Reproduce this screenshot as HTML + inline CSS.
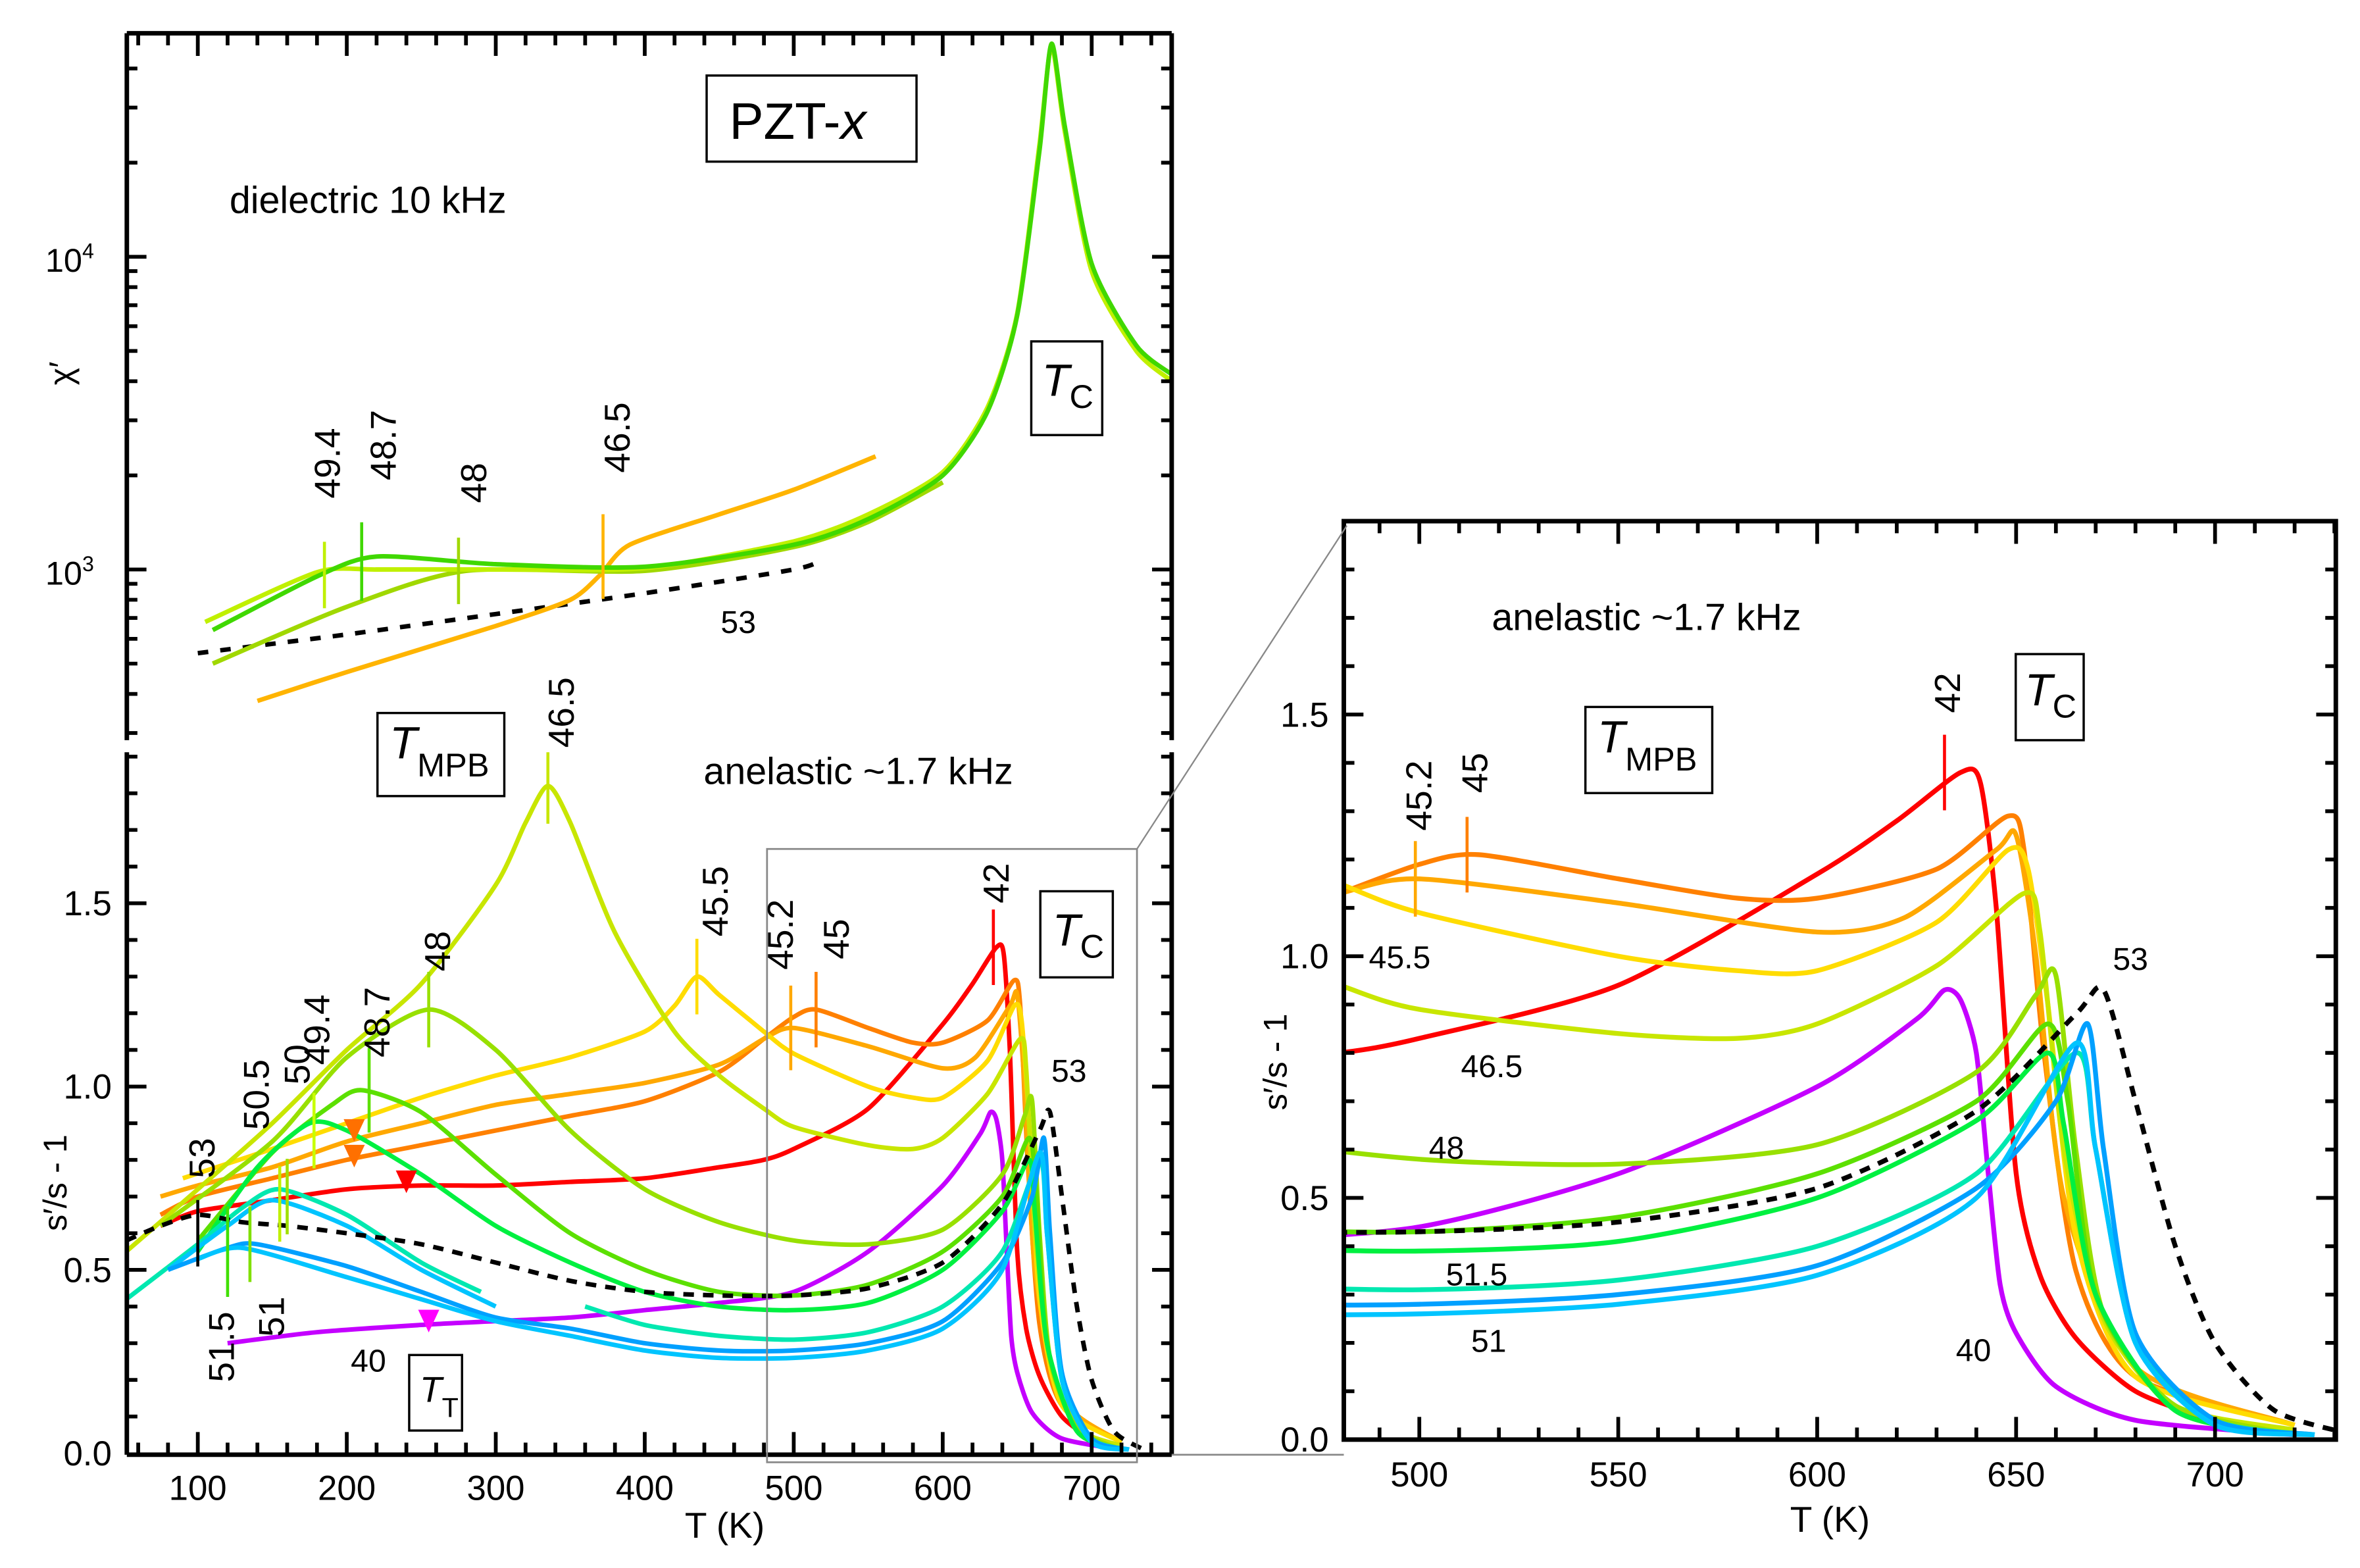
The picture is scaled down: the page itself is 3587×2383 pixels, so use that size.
<!DOCTYPE html>
<html><head><meta charset="utf-8"><style>
html,body{margin:0;padding:0;background:#fff}
svg{display:block}
text{font-family:"Liberation Sans",sans-serif}
</style></head><body>
<svg id="fig" width="3587" height="2383" viewBox="0 0 1563 1038" preserveAspectRatio="none" xmlns="http://www.w3.org/2000/svg">
<rect width="1563" height="1038" fill="#fff"/>
<defs>
<clipPath id="cTop"><rect x="84" y="22" width="692" height="468"/></clipPath>
<clipPath id="cBot"><rect x="84" y="498" width="692" height="465"/></clipPath>
<clipPath id="cRight"><rect x="890" y="345" width="657" height="608"/></clipPath>
</defs>
<g id="gTop" clip-path="url(#cTop)"></g>
<g id="gBot" clip-path="url(#cBot)"></g>
<g id="gRight" clip-path="url(#cRight)"></g>
<g id="gAxes"></g>
<g id="gText"></g>
</svg>
<script>
// ---------- data: lower (anelastic) panel, T in K, value s'/s-1 ----------
const names = ["40","42","45","45.2","45.5","46.5","48","48.7","49.4","50","51","51.5","53"];
const colors = ["#c400ff","#ff0000","#ff8000","#ffa800","#ffdc00","#c8e600","#98e000","#5ce000","#00f040","#00e8b0","#00a0ff","#00c4ff","#000"];
const T_40=[120,180,250,300,350,400,450,500,550,600,625,632,636,640,643,646,650,660,680,720];
const V_40=[0.30,0.33,0.35,0.36,0.37,0.39,0.41,0.44,0.55,0.73,0.87,0.93,0.91,0.80,0.55,0.32,0.22,0.11,0.04,0.01];
const T_42=[75,100,150,200,250,300,350,400,450,480,500,550,600,620,636,641,645,650,656,665,680,700,720];
const V_42=[0.62,0.66,0.69,0.72,0.73,0.73,0.74,0.75,0.78,0.80,0.83,0.94,1.17,1.28,1.38,1.36,1.10,0.55,0.34,0.21,0.10,0.04,0.01];
const T_45=[75,100,150,200,250,300,350,400,450,480,500,515,550,580,600,630,648,652,657,665,680,720];
const V_45=[0.65,0.70,0.75,0.80,0.84,0.88,0.92,0.96,1.04,1.13,1.19,1.21,1.16,1.12,1.12,1.18,1.29,1.22,0.80,0.35,0.13,0.03];
const T_452=[75,100,150,200,250,300,350,400,450,480,500,550,600,622,645,650,655,662,680,720];
const V_452=[0.70,0.73,0.78,0.85,0.90,0.95,0.98,1.01,1.06,1.13,1.16,1.11,1.05,1.08,1.22,1.25,1.00,0.50,0.15,0.03];
const T_455=[90,150,200,250,300,350,400,420,435,450,480,500,550,580,600,630,648,653,658,665,680,720];
const V_455=[0.75,0.83,0.90,0.97,1.03,1.08,1.15,1.22,1.30,1.25,1.15,1.09,1.00,0.97,0.97,1.07,1.22,1.18,0.90,0.42,0.13,0.03];
const T_465=[52,100,150,200,250,300,320,335,350,380,420,450,480,500,550,580,600,630,652,656,662,672,690,720];
const V_465=[0.55,0.72,0.90,1.10,1.28,1.55,1.72,1.82,1.72,1.42,1.15,1.03,0.94,0.89,0.84,0.83,0.86,0.98,1.13,1.05,0.60,0.25,0.07,0.02];
const T_48=[75,150,200,255,300,350,400,450,500,550,600,640,655,660,665,672,690,720];
const V_48=[0.62,0.85,1.08,1.21,1.10,0.88,0.72,0.63,0.58,0.57,0.61,0.76,0.92,0.96,0.60,0.26,0.07,0.01];
const T_487=[100,150,190,210,250,300,350,400,450,500,550,600,640,658,663,670,690,720];
const V_487=[0.58,0.82,0.95,0.99,0.93,0.76,0.60,0.50,0.44,0.43,0.46,0.55,0.70,0.86,0.70,0.30,0.06,0.01];
const T_494=[100,140,175,200,250,300,350,400,450,500,550,600,640,658,662,670,690,720];
const V_494=[0.55,0.78,0.90,0.88,0.76,0.62,0.52,0.44,0.40,0.39,0.41,0.50,0.66,0.80,0.65,0.30,0.06,0.01];
const T_50=[52,100,130,155,200,250,290];
const V_50=[0.42,0.57,0.67,0.72,0.65,0.52,0.44];
const T_50b=[360,400,450,500,550,600,640,665,670,680,700,725];
const V_50b=[0.40,0.35,0.32,0.31,0.33,0.40,0.55,0.80,0.60,0.20,0.04,0.01];
const T_505=[80,120,150,200,250,300];
const V_505=[0.50,0.62,0.69,0.62,0.50,0.40];
const T_51=[80,120,140,200,250,300,350,400,450,500,550,600,640,660,668,672,680,700,725];
const V_51=[0.50,0.56,0.57,0.51,0.44,0.37,0.34,0.30,0.28,0.28,0.30,0.36,0.52,0.70,0.86,0.60,0.22,0.04,0.01];
const T_515=[100,130,200,250,300,350,400,450,500,550,600,640,665,670,680,700,725];
const V_515=[0.53,0.56,0.48,0.42,0.36,0.32,0.28,0.26,0.26,0.28,0.34,0.50,0.82,0.60,0.20,0.03,0.01];
const T_53=[52,75,100,130,160,200,250,300,350,400,450,500,550,600,640,665,672,680,690,700,715,735];
const V_53=[0.58,0.62,0.65,0.63,0.62,0.60,0.57,0.52,0.47,0.44,0.43,0.43,0.45,0.52,0.68,0.88,0.93,0.70,0.40,0.20,0.06,0.01];

// ---------- data: top (dielectric) panel, chi' ----------
const T_d53=[100,200,300,400,500,520];
const C_d53=[540,620,720,840,1000,1080];
const T_d465=[140,200,300,350,370,390,450,500,555];
const C_d465=[380,470,660,800,960,1200,1500,1800,2300];
const T_d487=[110,180,220,300,400,500,550,600,630,650,665,673,682,700,730,754];
const C_d487=[640,950,1100,1040,1020,1200,1450,2000,3200,6500,22000,48000,26000,9500,5200,4200];
const T_d494=[105,180,220,300,400,500,550,600,630,650,665,673,682,700,730,754];
const C_d494=[680,980,1000,1000,1010,1230,1500,2050,3300,6600,23000,47000,25000,9000,5000,4000];
const T_d48=[110,200,280,400,500,550,600];
const C_d48=[500,760,990,990,1180,1420,1900];

// ---------- axis functions ----------
function xL(T){return 131+(T-100)*0.9867;}
function yL(v){return 962-v*242.7;}
function xR(T){return 940+(T-500)*2.635;}
function yR(v){return 953-v*320;}
function yT(c){return 377-(Math.log10(c)-3)*207;}

const NS="http://www.w3.org/2000/svg";
function mk(tag,attrs,parent){const e=document.createElementNS(NS,tag);for(const k in attrs)e.setAttribute(k,attrs[k]);parent.appendChild(e);return e;}
function smooth(pts){
  let d="M"+pts[0][0].toFixed(1)+","+pts[0][1].toFixed(1);
  for(let i=0;i<pts.length-1;i++){
    const p0=pts[Math.max(i-1,0)],p1=pts[i],p2=pts[i+1],p3=pts[Math.min(i+2,pts.length-1)];
    const c1=[p1[0]+(p2[0]-p0[0])/8,p1[1]+(p2[1]-p0[1])/8];
    const c2=[p2[0]-(p3[0]-p1[0])/8,p2[1]-(p3[1]-p1[1])/8];
    d+=" C"+c1[0].toFixed(1)+","+c1[1].toFixed(1)+" "+c2[0].toFixed(1)+","+c2[1].toFixed(1)+" "+p2[0].toFixed(1)+","+p2[1].toFixed(1);
  }
  return d;
}
const gTop=document.getElementById("gTop"),gBot=document.getElementById("gBot"),gRight=document.getElementById("gRight"),gAxes=document.getElementById("gAxes"),gText=document.getElementById("gText");

const anel=[[T_40,V_40,0],[T_42,V_42,1],[T_45,V_45,2],[T_452,V_452,3],[T_455,V_455,4],[T_465,V_465,5],[T_48,V_48,6],[T_487,V_487,7],[T_494,V_494,8],[T_50,V_50,9],[T_50b,V_50b,9],[T_505,V_505,11],[T_51,V_51,10],[T_515,V_515,11],[T_53,V_53,12]];
anel.forEach(s=>{
  const [Ts,Vs,ci]=s;
  [[gBot,xL,yL,3],[gRight,xR,yR,3.2]].forEach(([g,fx,fy,w])=>{
    const p=mk("path",{d:smooth(Ts.map((t,i)=>[fx(t),fy(Vs[i])])),fill:"none",stroke:colors[ci],"stroke-width":w,"stroke-linejoin":"round"},g);
    if(ci===12){p.setAttribute("stroke-dasharray","7,6");}
    
    
  });
});
const diel=[[T_d53,C_d53,"#000","53"],[T_d465,C_d465,"#ffb400","46.5"],[T_d48,C_d48,"#a0d800","48"],[T_d494,C_d494,"#c0f000","49.4"],[T_d487,C_d487,"#40d800","48.7"]];
diel.forEach(([Ts,Cs,col,nm])=>{
  const p=mk("path",{d:smooth(Ts.map((t,i)=>[xL(t),yT(Cs[i])])),fill:"none",stroke:col,"stroke-width":3},gTop);
  if(col==="#000")p.setAttribute("stroke-dasharray","7,8");
  
  
});

// ---------- markers ----------
function vmark(g,x,y,len,col){const l=mk("line",{x1:x,x2:x,y1:y-len,y2:y+len,stroke:col,"stroke-width":2},g);}
vmark(gBot,xL(335),yL(1.82),25,"#c8e600");
vmark(gBot,xL(435),yL(1.30),25,"#ffdc00");
vmark(gBot,xL(498),yL(1.16),28,"#ffa800");
vmark(gBot,xL(515),yL(1.21),25,"#ff8000");
vmark(gBot,xL(634),yL(1.38),25,"#ff0000");
vmark(gBot,xL(255),yL(1.21),25,"#98e000");
vmark(gBot,xL(215),yL(0.99),28,"#5ce000");
vmark(gBot,xL(178),yL(0.88),25,"#c8ff00");
vmark(gBot,xL(160),yL(0.70),25,"#a0e000");
vmark(gBot,xL(155),yL(0.68),25,"#c0f000");
vmark(gBot,xL(120),yL(0.55),30,"#40e000");
vmark(gBot,xL(135),yL(0.57),25,"#80e000");
vmark(gBot,xL(100),yL(0.60),22,"#000");
vmark(gTop,xL(185),yT(960),22,"#c0f000");
vmark(gTop,xL(210),yT(1060),26,"#40d800");
vmark(gTop,xL(275),yT(990),22,"#a0d800");
vmark(gTop,xL(372),yT(1100),28,"#ffb400");
vmark(gRight,xR(499),yR(1.16),25,"#ffa800");
vmark(gRight,xR(512),yR(1.21),25,"#ff8000");
vmark(gRight,xR(632),yR(1.38),25,"#ff0000");
function tri(g,x,y,col){const t=mk("polygon",{points:(x-7)+","+(y-10)+" "+(x+7)+","+(y-10)+" "+x+","+(y+5),fill:col},g);}
tri(gBot,xL(205),yL(0.87),"#ff7000");
tri(gBot,xL(205),yL(0.80),"#ff7000");
tri(gBot,xL(240),yL(0.73),"#ff0000");
tri(gBot,xL(255),yL(0.35),"#ff00ff");

// ---------- axes ----------
function frame(x,y,w,h,name){const r=mk("rect",{x:x,y:y,width:w,height:h,fill:"none",stroke:"#000","stroke-width":3},gAxes);}
[[84,22,84,490],[776,22,776,490],[84,498,84,963],[776,498,776,963],[84,22,776,22],[84,963,776,963]].forEach(a=>{const l=mk("line",{x1:a[0],y1:a[1],x2:a[2],y2:a[3],stroke:"#000","stroke-width":3},gAxes);});
function tick(x1,y1,x2,y2){mk("line",{x1:x1,y1:y1,x2:x2,y2:y2,stroke:"#000","stroke-width":2.5},gAxes);}
for(let T=60;T<=740;T+=20){const x=xL(T);const maj=T%100===0;const L=maj?15:8;tick(x,963,x,963-L);tick(x,22,x,22+L);}
for(let v=0.1;v<1.95;v+=0.1){const y=yL(v);if(y<498)continue;const maj=Math.abs(v*2-Math.round(v*2))<1e-6;const L=maj?13:7;tick(84,y,84+L,y);tick(776,y,776-L,y);}
for(let e=2;e<=4;e++){for(let m=1;m<=9;m++){const c=m*Math.pow(10,e);const y=yT(c);if(y<30||y>490)continue;const L=m===1?13:7;tick(84,y,84+L,y);tick(776,y,776-L,y);}}
frame(890,345,657,608,"right-plot-frame");
for(let T=490;T<=730;T+=10){const x=xR(T);const maj=T%50===0;const L=maj?15:8;tick(x,953,x,953-L);tick(x,345,x,345+L);}
for(let v=0.1;v<1.9;v+=0.1){const y=yR(v);const maj=Math.abs(v*2-Math.round(v*2))<1e-6;const L=maj?13:7;tick(890,y,890+L,y);tick(1547,y,1547-L,y);}
mk("rect",{x:508,y:562,width:245,height:406,fill:"none",stroke:"#888","stroke-width":1.2},gAxes);
mk("line",{x1:753,y1:562,x2:892,y2:348,stroke:"#888","stroke-width":1},gAxes);
mk("line",{x1:776,y1:963,x2:890,y2:963,stroke:"#888","stroke-width":1.2},gAxes);

// ---------- text ----------
function txt(x,y,s,size,opt){opt=opt||{};const t=mk("text",{x:x,y:y,"font-size":size,fill:opt.fill||"#000","text-anchor":opt.anchor||"start"},gText);if(opt.rot)t.setAttribute("transform","rotate(-90 "+x+" "+y+")");t.textContent=s;return t;}
function symb(x,y,main,subs,size,subsize,dy,name){const t=txt(x,y,"",size,{name:name});const a=mk("tspan",{"font-style":"italic"},t);a.textContent=main;const b=mk("tspan",{dy:dy,"font-size":subsize,"font-style":"normal"},t);b.textContent=subs;return t;}
const xtL=[100,200,300,400,500,600,700];
xtL.forEach(T=>txt(xL(T),993,String(T),23,{anchor:"middle",name:"x-tick-label"}));
const ytL=["0.0","0.5","1.0","1.5"];
ytL.forEach((s,i)=>txt(74,yL(i*0.5)+8,s,23,{anchor:"end",name:"y-tick-label"}));
const xtR=[500,550,600,650,700];
xtR.forEach(T=>txt(xR(T),984,String(T),23,{anchor:"middle",name:"x-tick-label"}));
ytL.forEach((s,i)=>txt(880,yR(i*0.5)+8,s,23,{anchor:"end",name:"y-tick-label"}));
txt(480,1018,"T (K)",24,{anchor:"middle",name:"x-axis-title"});
txt(1212,1014,"T (K)",24,{anchor:"middle",name:"x-axis-title"});
txt(44,815,"s′/s - 1",22,{rot:true,name:"y-axis-title"});
txt(852,735,"s′/s - 1",22,{rot:true,name:"y-axis-title"});
txt(48,255,"χ′",22,{rot:true,name:"y-axis-title"});
let t4=txt(30,180,"10",22,{name:"y-tick-label"});const s4=mk("tspan",{dy:-9,"font-size":14},t4);s4.textContent="4";
let t3=txt(30,387,"10",22,{name:"y-tick-label"});const s3=mk("tspan",{dy:-9,"font-size":14},t3);s3.textContent="3";
function box(x,y,w,h){mk("rect",{x:x,y:y,width:w,height:h,fill:"#fff",stroke:"#000","stroke-width":1.5},gText);}
box(468,50,139,57);
let pz=txt(483,92,"PZT-",34,{name:"pzt-title"});const pzx=mk("tspan",{"font-style":"italic"},pz);pzx.textContent="x";
txt(152,141,"dielectric 10 kHz",25,{name:"dielectric-label"});
txt(466,519,"anelastic ~1.7 kHz",25,{name:"anelastic-label"});
txt(988,417,"anelastic ~1.7 kHz",25,{name:"anelastic-label"});
box(683,226,47,62);symb(690,262,"T","C",30,22,8,"tc-label");
box(689,590,48,57);symb(697,626,"T","C",30,22,8,"tc-label");
box(1335,433,45,57);symb(1341,467,"T","C",30,22,8,"tc-label");
box(250,472,84,55);symb(258,502,"T","MPB",30,22,12,"tmpb-label");
box(1050,468,84,57);symb(1058,498,"T","MPB",30,22,12,"tmpb-label");
box(271,897,35,50);symb(278,928,"T","T",24,18,10,"tt-label");
const rl=[[380,495,"46.5"],[482,620,"45.5"],[525,642,"45.2"],[562,635,"45"],[668,598,"42"],[298,643,"48"],[258,700,"48.7"],[218,705,"49.4"],[205,718,"50"],[178,748,"50.5"],[142,780,"53"],[155,915,"51.5"],[188,885,"51"],[225,330,"49.4"],[262,318,"48.7"],[322,333,"48"],[417,313,"46.5"],[948,550,"45.2"],[985,525,"45"],[1298,472,"42"]];
rl.forEach(a=>txt(a[0],a[1],a[2],24,{rot:true,name:"composition-label"}));
txt(244,908,"40",21,{anchor:"middle",name:"composition-label"});
txt(708,716,"53",21,{anchor:"middle",name:"composition-label"});
txt(489,419,"53",21,{anchor:"middle",name:"composition-label"});
txt(927,641,"45.5",21,{anchor:"middle",name:"composition-label"});
txt(988,713,"46.5",21,{anchor:"middle",name:"composition-label"});
txt(958,767,"48",21,{anchor:"middle",name:"composition-label"});
txt(978,851,"51.5",21,{anchor:"middle",name:"composition-label"});
txt(986,895,"51",21,{anchor:"middle",name:"composition-label"});
txt(1307,901,"40",21,{anchor:"middle",name:"composition-label"});
txt(1411,642,"53",21,{anchor:"middle",name:"composition-label"});
</script>
</body></html>
